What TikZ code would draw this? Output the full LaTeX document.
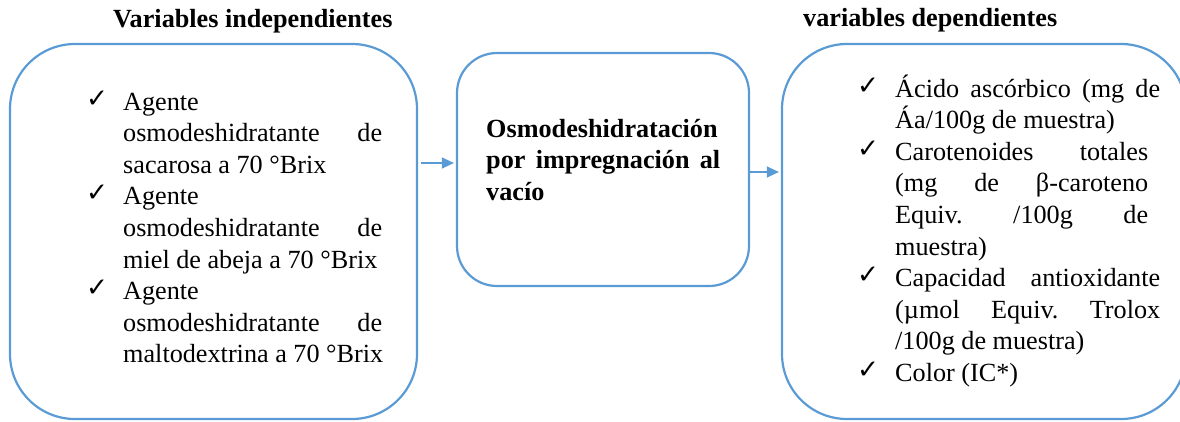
\documentclass[tikz,border=0pt]{standalone}
\usepackage{graphicx}
\usepackage{fontspec}
\setmainfont{Liberation Serif}
\newfontfamily\dejavu{DejaVu Sans}
\usetikzlibrary{arrows.meta}
\definecolor{boxblue}{HTML}{5B9BD5}
\newcommand\ckm{\raisebox{3pt}{\resizebox{22pt}{!}{\dejavu ✓}}}
\newcommand\chkline[1]{\makebox[37pt][l]{\ckm}#1}
\newcommand\txtline[1]{\hspace*{37pt}#1}
\newcommand\jline[2]{\hspace*{37pt}\makebox[#1][s]{#2}}
\frenchspacing
\begin{document}
\begin{tikzpicture}[x=1pt,y=-1pt,
  font=\fontsize{26.2}{31.6}\selectfont,
  box/.style={draw=boxblue, line width=2.2pt, rectangle, inner sep=0pt},
  txt/.style={anchor=base west, inner sep=0pt},
  arr/.style={draw=boxblue, line width=1.4pt, -{Triangle[length=12pt,width=11pt]}}]
\useasboundingbox (0,0) rectangle (1180,421);
\clip (0,0) rectangle (1180,421);
% boxes
\node[box, rounded corners=65pt, minimum width=407pt, minimum height=375pt] (L) at (213.5,231.5) {};
\node[box, rounded corners=40pt, minimum width=292pt, minimum height=233pt] (M) at (603,169.5) {};
\node[box, rounded corners=65pt, minimum width=404pt, minimum height=375pt] (R) at (984,231.5) {};
% titles
\node[txt, font=\bfseries\fontsize{26.2}{31.6}\selectfont] (t1) at (113,27) {Variables independientes};
\node[txt, font=\bfseries\fontsize{26.2}{31.6}\selectfont] (t2) at (803,26) {variables dependientes};
% left text
\node[txt] (Ltext) at (86,110) {\parbox[t]{310pt}{%
\chkline{Agente}\\
\jline{259pt}{osmodeshidratante de}\\
\txtline{sacarosa a 70 °Brix}\\
\chkline{Agente}\\
\jline{259pt}{osmodeshidratante de}\\
\txtline{miel de abeja a 70 °Brix}\\
\chkline{Agente}\\
\jline{259pt}{osmodeshidratante de}\\
\txtline{maltodextrina a 70 °Brix}}};
% middle text
\node[txt, font=\bfseries\fontsize{26.2}{31.6}\selectfont] (Mtext) at (486,137) {\parbox[t]{240pt}{%
Osmodeshidratación\\
\makebox[234pt][s]{por impregnación al}\\
vacío}};
% right text
\node[txt] (Rtext) at (857,97) {\parbox[t]{310pt}{%
\makebox[38pt][l]{\ckm}\makebox[265pt][s]{Ácido ascórbico (mg de}\\
\hspace*{38pt}Áa/100g de muestra)\\
\makebox[38pt][l]{\ckm}\makebox[253pt][s]{Carotenoides totales}\\
\hspace*{38pt}\makebox[253pt][s]{(mg de β-caroteno}\\
\hspace*{38pt}\makebox[253pt][s]{Equiv. /100g de}\\
\hspace*{38pt}muestra)\\
\makebox[38pt][l]{\ckm}\makebox[265pt][s]{Capacidad antioxidante}\\
\hspace*{38pt}\makebox[265pt][s]{(µmol Equiv. Trolox}\\
\hspace*{38pt}/100g de muestra)\\
\makebox[38pt][l]{\ckm}Color (IC*)}};
% arrows
\coordinate (a1s) at (421,163);
\coordinate (a2s) at (750,172);
\draw[arr, shorten >=2pt] (a1s) -- (M.west |- a1s);
\draw[arr, shorten >=2pt] (a2s) -- (R.west |- a2s);
\end{tikzpicture}
\end{document}
